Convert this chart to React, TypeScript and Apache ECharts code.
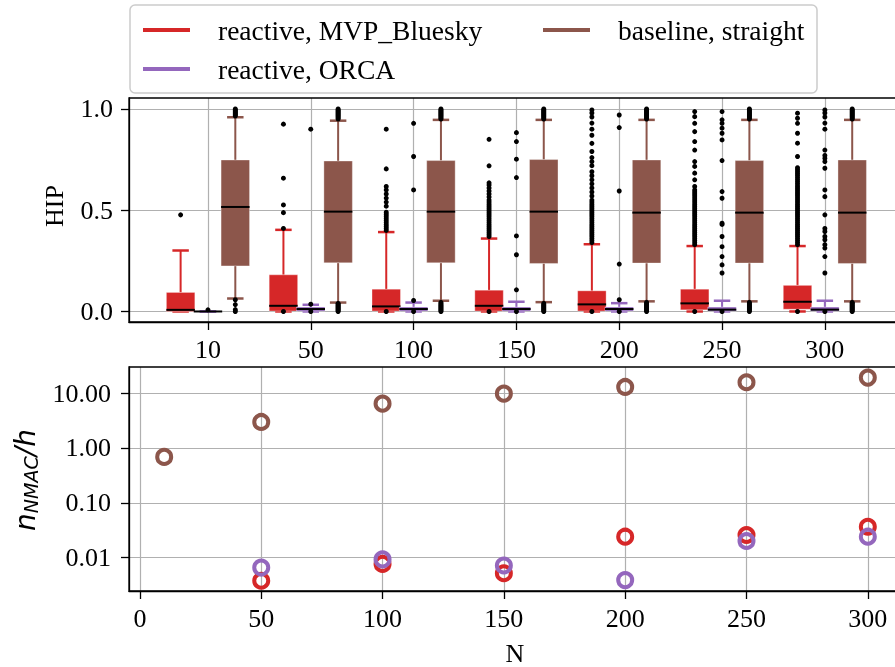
import React, { useEffect, useRef } from 'react';
import * as echarts from 'echarts';

const SERIES_NAMES = ['reactive, MVP_Bluesky', 'reactive, ORCA', 'baseline, straight'];
const COLORS = ['#d62728', '#9467bd', '#8c564b'];

const N_LABELS = ['10', '50', '100', '150', '200', '250', '300'];
const N_VALUES = [10, 50, 100, 150, 200, 250, 300];

// box statistics per N: [min, Q1, median, Q3, max]
const mvpBoxes = [
  [0, 0, 0.008, 0.094, 0.301],
  [0, 0.002, 0.028, 0.181, 0.403],
  [0, 0.002, 0.025, 0.110, 0.392],
  [0, 0.002, 0.028, 0.105, 0.360],
  [0, 0.002, 0.035, 0.102, 0.332],
  [0, 0.008, 0.040, 0.110, 0.323],
  [0, 0.011, 0.048, 0.129, 0.323],
];
const orcaBoxes = [
  [0, 0, 0, 0, 0],
  [0, 0.002, 0.012, 0.022, 0.033],
  [0, 0.002, 0.012, 0.022, 0.044],
  [0, 0.002, 0.012, 0.022, 0.048],
  [0, 0.002, 0.012, 0.022, 0.041],
  [0, 0.002, 0.009, 0.022, 0.053],
  [0, 0.002, 0.009, 0.022, 0.053],
];
const straightBoxes = [
  [0.064, 0.225, 0.516, 0.748, 0.959],
  [0.044, 0.240, 0.493, 0.743, 0.942],
  [0.053, 0.240, 0.493, 0.745, 0.946],
  [0.046, 0.237, 0.493, 0.750, 0.946],
  [0.050, 0.239, 0.488, 0.748, 0.946],
  [0.050, 0.239, 0.488, 0.745, 0.946],
  [0.050, 0.237, 0.488, 0.748, 0.946],
];

// outliers per N
const mvpFliers = [
  [0.477],
  [0, 0.41, 0.488, 0.526, 0.658, 0.925],
  [0, 0.40, 0.41, 0.42, 0.43, 0.44, 0.45, 0.46, 0.47, 0.48, 0.49, 0.52, 0.54, 0.56, 0.58, 0.60, 0.617, 0.704, 0.90],
  [0, 0.37, 0.38, 0.39, 0.40, 0.41, 0.42, 0.43, 0.44, 0.45, 0.46, 0.47, 0.48, 0.49, 0.50, 0.51, 0.52, 0.53, 0.54, 0.55, 0.565, 0.58, 0.595, 0.61, 0.625, 0.635, 0.719, 0.85],
  [0, 0.34, 0.35, 0.36, 0.37, 0.38, 0.39, 0.40, 0.41, 0.42, 0.43, 0.44, 0.45, 0.46, 0.47, 0.48, 0.49, 0.50, 0.51, 0.52, 0.53, 0.54, 0.55, 0.57, 0.59, 0.61, 0.63, 0.65, 0.67, 0.69, 0.72, 0.74, 0.76, 0.79, 0.83, 0.87, 0.90, 0.93, 0.96, 0.98, 0.995],
  [0, 0.33, 0.34, 0.35, 0.36, 0.37, 0.38, 0.39, 0.40, 0.41, 0.42, 0.43, 0.44, 0.45, 0.46, 0.47, 0.48, 0.49, 0.50, 0.51, 0.52, 0.53, 0.54, 0.55, 0.56, 0.57, 0.58, 0.59, 0.60, 0.617, 0.65, 0.683, 0.716, 0.74, 0.797, 0.839, 0.888, 0.929, 0.962, 0.987],
  [0, 0.33, 0.34, 0.35, 0.36, 0.37, 0.38, 0.39, 0.40, 0.41, 0.42, 0.43, 0.44, 0.45, 0.46, 0.47, 0.48, 0.49, 0.50, 0.51, 0.52, 0.53, 0.54, 0.55, 0.56, 0.57, 0.58, 0.59, 0.60, 0.61, 0.62, 0.63, 0.64, 0.65, 0.66, 0.67, 0.68, 0.69, 0.70, 0.71, 0.765, 0.831, 0.88, 0.929, 0.954, 0.979],
];
const orcaFliers = [
  [0.008],
  [0, 0.036, 0.90],
  [0, 0.054, 0.60, 0.765, 0.929],
  [0, 0.107, 0.28, 0.373, 0.661, 0.752, 0.839, 0.883],
  [0, 0.058, 0.234, 0.595, 0.908, 0.97],
  [0, 0.19, 0.23, 0.271, 0.32, 0.37, 0.43, 0.436, 0.559, 0.592, 0.745, 0.847, 0.88, 0.905, 0.929, 0.946, 0.987],
  [0, 0.19, 0.271, 0.313, 0.33, 0.354, 0.37, 0.395, 0.41, 0.477, 0.567, 0.60, 0.707, 0.74, 0.756, 0.77, 0.797, 0.90, 0.93, 0.96, 0.98, 0.995],
];
const straightFliers = [
  [0, 0.009, 0.034, 0.058, 0.965, 0.97, 0.975, 0.98, 0.985, 0.99, 0.995, 1.0],
  [0, 0.005, 0.01, 0.015, 0.02, 0.025, 0.03, 0.035, 0.04, 0.95, 0.955, 0.96, 0.965, 0.97, 0.975, 0.98, 0.985, 0.99, 0.995, 1.0],
  [0, 0.005, 0.01, 0.015, 0.02, 0.025, 0.03, 0.035, 0.04, 0.045, 0.95, 0.955, 0.96, 0.965, 0.97, 0.975, 0.98, 0.985, 0.99, 0.995, 1.0],
  [0, 0.005, 0.01, 0.015, 0.02, 0.025, 0.03, 0.035, 0.04, 0.95, 0.955, 0.96, 0.965, 0.97, 0.975, 0.98, 0.985, 0.99, 0.995, 1.0],
  [0, 0.005, 0.01, 0.015, 0.02, 0.025, 0.03, 0.035, 0.04, 0.045, 0.95, 0.955, 0.96, 0.965, 0.97, 0.975, 0.98, 0.985, 0.99, 0.995, 1.0],
  [0, 0.005, 0.01, 0.015, 0.02, 0.025, 0.03, 0.035, 0.04, 0.045, 0.95, 0.955, 0.96, 0.965, 0.97, 0.975, 0.98, 0.985, 0.99, 0.995, 1.0],
  [0, 0.005, 0.01, 0.015, 0.02, 0.025, 0.03, 0.035, 0.04, 0.045, 0.95, 0.955, 0.96, 0.965, 0.97, 0.975, 0.98, 0.985, 0.99, 0.995, 1.0],
];

// NMAC rate per hour, per N (null = no value)
const mvpRate = [null, 0.0038, 0.0077, 0.0052, 0.0241, 0.0259, 0.0366];
const orcaRate = [null, 0.0066, 0.0093, 0.0072, 0.0039, 0.0201, 0.0241];
const straightRate = [0.686, 2.97, 6.4, 9.75, 12.9, 15.7, 19.1];

const HIP_TICKS = [0, 0.5, 1.0];
const CAT_TICKS = [0, 1, 2, 3, 4, 5, 6];
const N_TICKS = [0, 50, 100, 150, 200, 250, 300];
const RATE_TICKS = [0.01, 0.1, 1, 10];

const SERIF = '"Liberation Serif", "Times New Roman", Times, serif';
const GRID_COLOR = '#b0b0b0';
const BOX_WIDTH = 0.277;
const CAP_WIDTH = 0.16;
const OFFSETS = [-0.266, 0, 0.266];

const TOP = { left: 129, top: 98, width: 774, height: 224 };
const BOT = { left: 129, top: 367, width: 774, height: 224 };

function boxRenderer(offset: number, color: string) {
  return (params: any, api: any) => {
    const x = api.value(0);
    const unit = api.size([1, 0])[0];
    const cx = api.coord([x, 0])[0] + offset * unit;
    const hw = (BOX_WIDTH * unit) / 2;
    const cw = (CAP_WIDTH * unit) / 2;
    const y = (k: number) => api.coord([x, api.value(k)])[1];
    const yMin = y(1), yQ1 = y(2), yMed = y(3), yQ3 = y(4), yMax = y(5);
    const ws = { stroke: color, lineWidth: 2 };
    const cs = { stroke: color, lineWidth: 2.5 };
    return {
      type: 'group',
      children: [
        { type: 'line', shape: { x1: cx, y1: yQ3, x2: cx, y2: yMax }, style: ws },
        { type: 'line', shape: { x1: cx, y1: yQ1, x2: cx, y2: yMin }, style: ws },
        { type: 'line', shape: { x1: cx - cw, y1: yMax, x2: cx + cw, y2: yMax }, style: cs },
        { type: 'line', shape: { x1: cx - cw, y1: yMin, x2: cx + cw, y2: yMin }, style: cs },
        { type: 'rect', shape: { x: cx - hw, y: yQ3, width: hw * 2, height: Math.max(yQ1 - yQ3, 0) }, style: { fill: color, stroke: 'rgba(255,255,255,0.35)', lineWidth: 1 } },
        { type: 'line', shape: { x1: cx - hw, y1: yMed, x2: cx + hw, y2: yMed }, style: { stroke: '#000', lineWidth: 2 } },
      ],
    };
  };
}

export default function App() {
  const ref = useRef<HTMLDivElement>(null);
  useEffect(() => {
    if (!ref.current) return;
    const chart = echarts.init(ref.current, undefined, { renderer: 'svg' });

    const boxSets = [mvpBoxes, orcaBoxes, straightBoxes];
    const flierSets = [mvpFliers, orcaFliers, straightFliers];
    const rateSets = [mvpRate, orcaRate, straightRate];

    const boxSeries = boxSets.map((boxes, s) => ({
      type: 'custom',
      name: SERIES_NAMES[s],
      xAxisIndex: 0,
      yAxisIndex: 0,
      itemStyle: { color: COLORS[s] },
      encode: { x: 0, y: [1, 2, 3, 4, 5] },
      data: boxes.map((b, i) => [i, ...b]),
      renderItem: boxRenderer(OFFSETS[s], COLORS[s]),
      clip: false,
      z: 2,
    }));

    const flierSeries = flierSets.map((fl, s) => ({
      type: 'scatter',
      name: 'fliers ' + s,
      xAxisIndex: 0,
      yAxisIndex: 0,
      symbol: 'circle',
      symbolSize: 5,
      itemStyle: { color: '#000', opacity: 1 },
      data: fl.flatMap((vals, i) => vals.map((v) => [i + OFFSETS[s], v])),
      z: 3,
    }));

    const rateSeries = [2, 0, 1].map((s) => ({
      type: 'scatter',
      name: SERIES_NAMES[s],
      xAxisIndex: 1,
      yAxisIndex: 1,
      symbol: 'circle',
      symbolSize: 14,
      itemStyle: { color: 'rgba(255,255,255,0)', borderColor: COLORS[s], borderWidth: 4, opacity: 1 },
      data: N_VALUES.map((n, i) => [n, rateSets[s][i]]).filter((d) => d[1] != null),
      z: 3,
    }));

    const tickLabel = { fontFamily: SERIF, fontSize: 26, color: '#000' };
    const axisLine = { show: true, onZero: false, lineStyle: { color: '#000', width: 1.3 } };
    const axisTick = { show: true, length: 8, lineStyle: { color: '#000', width: 1.3 } };
    const splitLine = { show: true, lineStyle: { color: GRID_COLOR, width: 1.2 } };

    chart.setOption({
      animation: false,
      color: COLORS,
      grid: [
        { ...TOP, containLabel: false },
        { ...BOT, containLabel: false },
      ],
      xAxis: [
        {
          type: 'value', gridIndex: 0, min: -0.768, max: 6.76, splitNumber: 7,
          axisLine,
          axisTick: { ...axisTick, customValues: CAT_TICKS },
          axisLabel: { ...tickLabel, margin: 14, customValues: CAT_TICKS, formatter: (v: number) => N_LABELS[Math.round(v)] ?? '' },
          splitLine,
        },
        {
          type: 'value', gridIndex: 1, min: -4.5, max: 314.5, splitNumber: 6,
          axisLine,
          axisTick: { ...axisTick, customValues: N_TICKS },
          axisLabel: { ...tickLabel, margin: 14, customValues: N_TICKS },
          splitLine,
        },
      ],
      yAxis: [
        {
          type: 'value', gridIndex: 0, min: -0.052, max: 1.054, splitNumber: 2,
          axisLine,
          axisTick: { ...axisTick, customValues: HIP_TICKS },
          axisLabel: { ...tickLabel, margin: 16, customValues: HIP_TICKS, formatter: (v: number) => v.toFixed(1) },
          splitLine,
        },
        {
          type: 'log', logBase: 10, gridIndex: 1, min: 0.00247, max: 29.8,
          axisLine,
          axisTick: { ...axisTick, customValues: RATE_TICKS },
          axisLabel: { ...tickLabel, margin: 18, customValues: RATE_TICKS, formatter: (v: number) => Number(v).toFixed(2) },
          splitLine,
        },
      ],
      legend: [
        {
          data: [SERIES_NAMES[0], SERIES_NAMES[1]],
          orient: 'vertical',
          left: 143,
          top: 16,
          padding: 0,
          itemGap: 11,
          itemWidth: 47,
          itemHeight: 4,
          icon: 'rect',
          itemStyle: { borderWidth: 0 },
          textStyle: { fontFamily: SERIF, fontSize: 27.5, color: '#000', padding: [0, 0, 0, 23] },
          selectedMode: false,
          z: 20,
        },
        {
          data: [SERIES_NAMES[2]],
          orient: 'vertical',
          left: 543,
          top: 16,
          padding: 0,
          itemWidth: 47,
          itemHeight: 4,
          icon: 'rect',
          itemStyle: { borderWidth: 0 },
          textStyle: { fontFamily: SERIF, fontSize: 27.5, color: '#000', padding: [0, 0, 0, 23] },
          selectedMode: false,
          z: 20,
        },
      ],
      graphic: [
        { type: 'rect', z: 15, shape: { x: 130, y: 5, width: 687, height: 88, r: 5 }, style: { fill: '#fff', stroke: '#cccccc', lineWidth: 1.5 } },
        { type: 'rect', z: 10, silent: true, shape: { x: TOP.left, y: TOP.top, width: TOP.width, height: TOP.height }, style: { fill: 'none', stroke: '#000', lineWidth: 1.3 } },
        { type: 'rect', z: 10, silent: true, shape: { x: BOT.left, y: BOT.top, width: BOT.width, height: BOT.height }, style: { fill: 'none', stroke: '#000', lineWidth: 1.3 } },
        { type: 'text', z: 10, x: 54, y: 206, rotation: Math.PI / 2, style: { text: 'HIP', fontFamily: SERIF, fontSize: 26, fill: '#000', textAlign: 'center', textVerticalAlign: 'middle' } },
        {
          type: 'text', z: 10, x: 25, y: 480, rotation: Math.PI / 2,
          style: {
            text: '{n|n}{s|NMAC}{n|/h}',
            textAlign: 'center', textVerticalAlign: 'middle', fill: '#000',
            rich: {
              n: { fontFamily: '"DejaVu Sans", sans-serif', fontStyle: 'italic', fontSize: 28, fill: '#000' },
              s: { fontFamily: '"DejaVu Sans", sans-serif', fontStyle: 'italic', fontSize: 19, fill: '#000', padding: [12, 0, 0, 0] },
            },
          },
        },
        { type: 'text', z: 10, x: 515, y: 653, style: { text: 'N', fontFamily: SERIF, fontSize: 26, fill: '#000', textAlign: 'center', textVerticalAlign: 'middle' } },
      ],
      series: [...boxSeries, ...flierSeries, ...rateSeries],
    });
    return () => chart.dispose();
  }, []);
  return <div ref={ref} style={{ position: 'fixed', left: 0, top: 0, width: 910, height: 667 }} />;
}
